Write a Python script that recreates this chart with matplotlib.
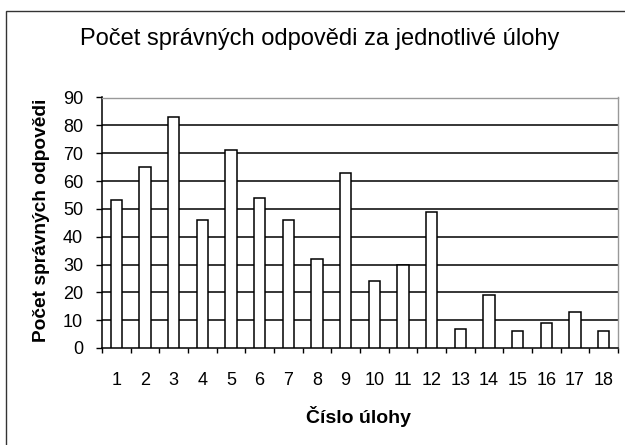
import matplotlib
matplotlib.use("Agg")
import matplotlib.pyplot as plt
from matplotlib.patches import Rectangle

categories = [str(i) for i in range(1, 19)]
values = [53, 65, 83, 46, 71, 54, 46, 32, 63, 24, 30, 49, 7, 19, 6, 9, 13, 6]
yticks = [0, 10, 20, 30, 40, 50, 60, 70, 80, 90]
title = "Počet správných odpovědi za jednotlivé úlohy"
xlabel = "Číslo úlohy"
ylabel = "Počet správných odpovědi"

W, H = 625, 445
PX = 72 / 100  # points per pixel
fig = plt.figure(figsize=(W / 100, H / 100), dpi=100)
plt.rcParams['font.family'] = ['Liberation Sans', 'DejaVu Sans']

# outer chart border (extends past right/bottom edge)
fig.patches.append(Rectangle((6 / W, -0.05), 1.1, (H - 11) / H + 0.05,
                             transform=fig.transFigure, fill=False,
                             edgecolor='#333333', linewidth=1.0))

left, right, top, bottom = 102, 618, 97.5, 348
ax = fig.add_axes([left / W, (H - bottom) / H, (right - left) / W, (bottom - top) / H])

x = list(range(1, len(values) + 1))
ax.bar(x, values, width=0.4, color='white', edgecolor='black', linewidth=1.1, zorder=3)

ax.set_xlim(0.5, len(values) + 0.5)
ax.set_ylim(0, 90)
ax.set_yticks(yticks)
ax.set_yticklabels([str(v) for v in yticks], fontsize=13)
for v in yticks[1:-1]:
    ax.axhline(v, color='black', linewidth=1.1, zorder=1)

ax.set_xticks(x)
ax.set_xticklabels(categories, fontsize=13)
ax.set_xticks([i + 0.5 for i in range(0, len(values) + 1)], minor=True)
ax.tick_params(axis='x', which='major', length=0, pad=24 * PX)
ax.tick_params(axis='x', which='minor', length=5 * PX, width=1, color='black', direction='out')
ax.tick_params(axis='y', which='major', length=6 * PX, width=1, color='black', direction='out',
               pad=13 * PX)

ax.spines['left'].set_color('black')
ax.spines['bottom'].set_color('black')
ax.spines['left'].set_linewidth(1.1)
ax.spines['bottom'].set_linewidth(1.1)
ax.spines['top'].set_color('#999999')
ax.spines['right'].set_color('#999999')
ax.spines['top'].set_linewidth(1.0)
ax.spines['right'].set_linewidth(1.0)

fig.text(319.5 / W, 1 - 45 / H, title, ha='center', va='baseline', fontsize=17)
fig.text(359 / W, 1 - 423 / H, xlabel, ha='center', va='baseline', fontsize=14,
         fontweight='bold')
fig.text(42 / W, 1 - 220.5 / H, ylabel, ha='center', va='center', fontsize=13.8,
         fontweight='bold', rotation=90)

fig.savefig("out.png", dpi=100)
